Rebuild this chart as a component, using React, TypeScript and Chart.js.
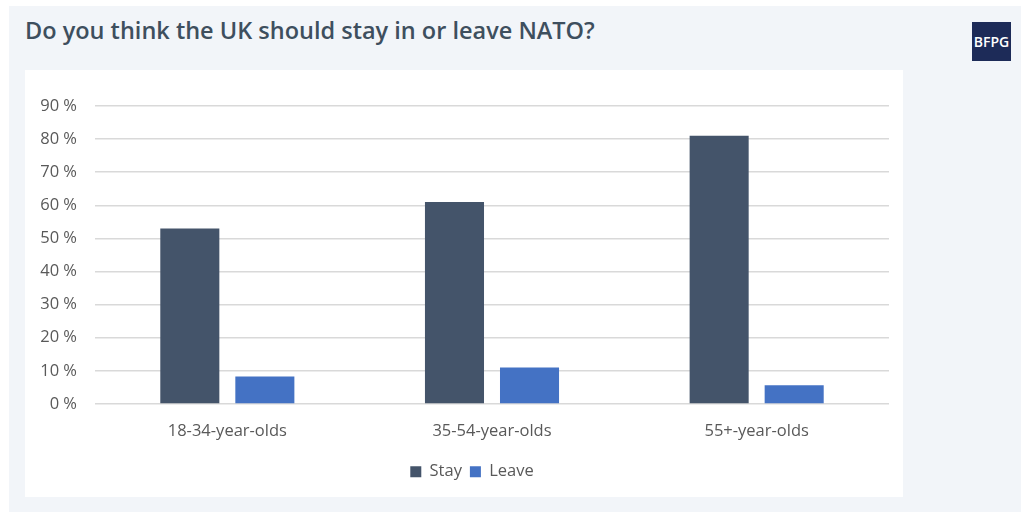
import React, { useEffect, useRef } from "react";
import { Chart, registerables } from "chart.js";

Chart.register(...registerables);

const categories = ["18-34-year-olds", "35-54-year-olds", "55+-year-olds"];
const stayValues = [53, 61, 81];
const leaveValues = [8.3, 11, 5.7];
const seriesNames = ["Stay", "Leave"];
const yTicksMax = 90;
const yTickStep = 10;

const FONT = "'Open Sans', 'Noto Sans', sans-serif";

const legendShift = {
  id: "legendShift",
  beforeDraw(chart: any) {
    const lg = chart.legend;
    if (lg) {
      lg.left = 30;
    }
  },
};

export default function App() {
  const canvasRef = useRef<HTMLCanvasElement | null>(null);

  useEffect(() => {
    const canvas = canvasRef.current;
    if (!canvas) return;
    const chart = new Chart(canvas, {
      type: "bar",
      data: {
        labels: categories,
        datasets: [
          {
            label: seriesNames[0],
            data: stayValues,
            backgroundColor: "#44546a",
            categoryPercentage: 0.567,
            barPercentage: 0.787,
          },
          {
            label: seriesNames[1],
            data: leaveValues,
            backgroundColor: "#4472c4",
            categoryPercentage: 0.567,
            barPercentage: 0.787,
          },
        ],
      },
      plugins: [legendShift],
      options: {
        animation: false,
        responsive: false,
        maintainAspectRatio: false,
        layout: { padding: { top: 36, left: 0, right: 14, bottom: 7 } },
        plugins: {
          title: { display: false },
          tooltip: { enabled: false },
          legend: {
            position: "bottom",
            labels: {
              boxWidth: 11,
              boxHeight: 11,
              padding: 8,
              color: "#595959",
              font: { family: FONT, size: 16.5 },
            },
          },
        },
        scales: {
          x: {
            grid: { display: false, drawTicks: false },
            border: { display: false },
            ticks: {
              color: "#595959",
              padding: 17,
              font: { family: FONT, size: 16.5 },
            },
            afterFit: (scale: any) => {
              scale.height = 51.5;
            },
          },
          y: {
            min: 0,
            max: yTicksMax,
            grid: { color: "#d9d9d9", lineWidth: 1.5, drawTicks: false },
            border: { display: false },
            ticks: {
              stepSize: yTickStep,
              color: "#595959",
              padding: 18,
              font: { family: FONT, size: 16.5 },
              callback: (v: any) => `${v} %`,
            },
            afterFit: (scale: any) => {
              scale.width = 70;
            },
          },
        },
      },
    });
    return () => chart.destroy();
  }, []);

  return (
    <div
      style={{
        position: "fixed",
        left: 0,
        top: 0,
        width: 1021,
        height: 512,
        background: "#ffffff",
        overflow: "hidden",
      }}
    >
      <div
        style={{
          position: "absolute",
          left: 9,
          top: 6,
          width: 1012,
          height: 506,
          background: "#f2f5f9",
        }}
      />
      <div
        style={{
          position: "absolute",
          left: 25,
          top: 12,
          fontFamily: FONT,
          fontWeight: 600,
          fontSize: 23.5,
          color: "#3e4f5e",
          whiteSpace: "nowrap",
          lineHeight: "36px",
        }}
      >
        Do you think the UK should stay in or leave NATO?
      </div>
      <div
        style={{
          position: "absolute",
          left: 972,
          top: 22,
          width: 39,
          height: 39,
          background: "#1d2b58",
          color: "#ffffff",
          fontFamily: FONT,
          fontWeight: 600,
          fontSize: 14,
          display: "flex",
          alignItems: "center",
          justifyContent: "center",
        }}
      >
        BFPG
      </div>
      <div
        style={{
          position: "absolute",
          left: 25,
          top: 70,
          width: 878,
          height: 427,
          background: "#ffffff",
        }}
      >
        <canvas ref={canvasRef} width={878} height={427} />
      </div>
    </div>
  );
}
